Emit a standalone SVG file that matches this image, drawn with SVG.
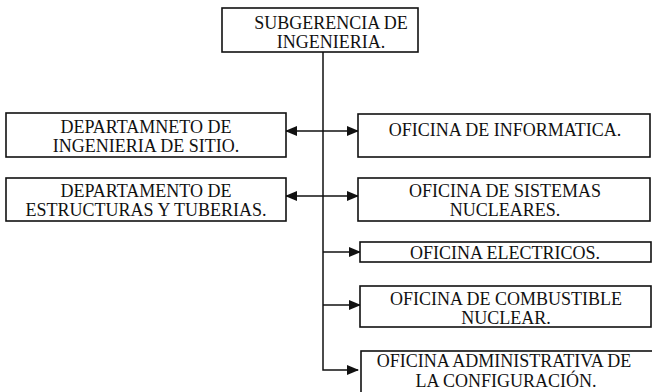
<svg xmlns="http://www.w3.org/2000/svg" width="652" height="392" viewBox="0 0 652 392">
<defs>
<style>
.box{fill:#fff;stroke:#111;stroke-width:1.6}
.t{font-family:"Liberation Serif","Times New Roman",serif;font-size:18px;fill:#111;text-anchor:middle}
.c{fill:none;stroke:#111;stroke-width:1.5}
</style>
<marker id="ah" viewBox="0 0 12 10" refX="11" refY="5" markerWidth="12" markerHeight="10" markerUnits="userSpaceOnUse" orient="auto-start-reverse">
<path d="M0,0 L12,5 L0,10 Z" fill="#111"/>
</marker>
</defs>
<rect width="652" height="392" fill="#fff"/>
<g id="connectors">
<path class="c" d="M323,52 V370 H358" marker-end="url(#ah)"/>
<path class="c" d="M286,131 H358" marker-start="url(#ah)" marker-end="url(#ah)"/>
<path class="c" d="M286,196 H358" marker-start="url(#ah)" marker-end="url(#ah)"/>
<path class="c" d="M323,252 H360" marker-end="url(#ah)"/>
<path class="c" d="M323,305 H360" marker-end="url(#ah)"/>
</g>
<g id="subgerencia">
<rect class="box" x="222" y="8" width="196" height="44"/>
<text class="t" x="331" y="29">SUBGERENCIA DE</text>
<text class="t" x="331" y="48">INGENIERIA.</text>
</g>
<g id="dep-sitio">
<rect class="box" x="6" y="113" width="280" height="44"/>
<text class="t" x="146" y="133">DEPARTAMNETO DE</text>
<text class="t" x="146" y="152">INGENIERIA DE SITIO.</text>
</g>
<g id="dep-estructuras">
<rect class="box" x="6" y="178" width="280" height="43"/>
<text class="t" x="146" y="197">DEPARTAMENTO DE</text>
<text class="t" x="146" y="216">ESTRUCTURAS Y TUBERIAS.</text>
</g>
<g id="of-informatica">
<rect class="box" x="358" y="114" width="292" height="43"/>
<text class="t" x="505" y="136">OFICINA DE INFORMATICA.</text>
</g>
<g id="of-sistemas">
<rect class="box" x="358" y="178" width="292" height="43"/>
<text class="t" x="505" y="197">OFICINA DE SISTEMAS</text>
<text class="t" x="505" y="216">NUCLEARES.</text>
</g>
<g id="of-electricos">
<rect class="box" x="360" y="242" width="291" height="20"/>
<text class="t" x="505" y="259">OFICINA ELECTRICOS.</text>
</g>
<g id="of-combustible">
<rect class="box" x="360" y="286" width="291" height="41"/>
<text class="t" x="506" y="305">OFICINA DE COMBUSTIBLE</text>
<text class="t" x="506" y="324">NUCLEAR.</text>
</g>
<g id="of-administrativa">
<rect class="box" x="361" y="351" width="300" height="45"/>
<text class="t" x="504" y="367">OFICINA ADMINISTRATIVA DE</text>
<text class="t" x="506" y="387">LA CONFIGURACIÓN.</text>
</g>
</svg>
